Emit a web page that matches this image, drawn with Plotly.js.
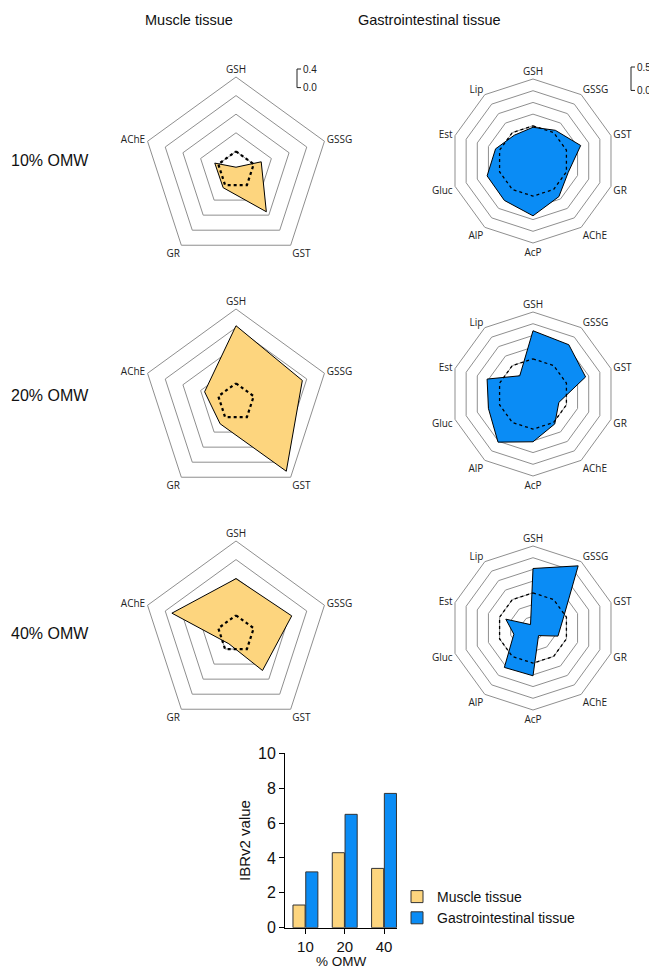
<!DOCTYPE html>
<html>
<head>
<meta charset="utf-8">
<script src="https://cdn.plot.ly/plotly-3.0.1.min.js"></script>
<style>
  html, body { margin: 0; padding: 0; background: #fff; }
  #chart { width: 649px; height: 969px; }
</style>
</head>
<body>
<div id="chart"></div>
<script>
// Biomarker axes of the star plots
const muscleAxes = ['GSH', 'GSSG', 'GST', 'GR', 'AChE'];
const gutAxes = ['GSH', 'GSSG', 'GST', 'GR', 'AChE', 'AcP', 'AlP', 'Gluc', 'Est', 'Lip'];

// Star plot scores (radial units) per OMW concentration
const muscle10 = [0.06, 0.57, 1.11, 0.47, 0.48];
const muscle20 = [1.64, 1.50, 1.84, 0.58, 0.71];
const muscle40 = [1.19, 1.26, 0.97, 0.26, 1.45];
const muscleRef = [0.4, 0.4, 0.4, 0.4, 0.4];

const gut10 = [0.72, 0.81, 1.07, 0.79, 0.94, 1.17, 1.04, 1.03, 0.84, 0.68];
const gut20 = [1.35, 1.30, 1.18, 0.58, 0.79, 1.02, 1.27, 1.00, 1.03, 0.48];
const gut40 = [1.27, 1.64, 0.68, 0.56, 0.20, 1.02, 1.04, 0.43, 0.61, 0.09];
const gutRef = [0.75, 0.75, 0.75, 0.75, 0.75, 0.75, 0.75, 0.75, 0.75, 0.75];

// Grid rings and scale-bar steps
const muscleRings = [0.4, 0.8, 1.2, 1.6, 2.0];
const gutRings = [0.25, 0.5, 0.75, 1.0, 1.25, 1.5, 1.75];
const muscleScaleLabels = ['0.4', '0.0'];
const gutScaleLabels = ['0.5', '0.0'];

// Integrated biomarker response summary
const omwLevels = ['10', '20', '40'];
const ibrMuscle = [1.3, 4.3, 3.4];
const ibrGut = [3.2, 6.5, 7.7];

const rowLabels = ['10% OMW', '20% OMW', '40% OMW'];
const colTitles = ['Muscle tissue', 'Gastrointestinal tissue'];
const barXTitle = '% OMW';

const W = 649, H = 969;
const YELLOW = '#FDD57E';
const BLUE = '#0A8CF5';
const GRID = '#8f8f8f';

const px = x => x / W;
const py = y => 1 - y / H;

function closeLoop(arr) { return arr.concat([arr[0]]); }

// geometry of each star panel (pixel centre + outer radius)
const muscleR = 93, gutR = 82;
const muscleCenters = [[236, 170], [236, 402], [236, 634]];
const gutCenters = [[533, 161], [533, 394], [533, 628]];

const muscleSets = [muscle10, muscle20, muscle40];
const gutSets = [gut10, gut20, gut40];

const data = [];
const layout = {
  width: W, height: H,
  margin: {l: 0, r: 0, t: 0, b: 0},
  paper_bgcolor: '#fff',
  plot_bgcolor: '#fff',
  showlegend: true,
  font: {family: 'Liberation Sans, Arial, sans-serif', color: '#111'},
  annotations: [],
  shapes: []
};

function polarLayout(center, R, rings, axes) {
  return {
    domain: {
      x: [px(center[0] - R), px(center[0] + R)],
      y: [py(center[1] + R), py(center[1] - R)]
    },
    gridshape: 'linear',
    bgcolor: 'rgba(0,0,0,0)',
    radialaxis: {
      range: [0, rings[rings.length - 1]],
      tickvals: rings,
      showticklabels: false,
      showline: false,
      ticks: '',
      gridcolor: GRID,
      gridwidth: 1,
      layer: 'below traces'
    },
    angularaxis: {
      type: 'category',
      categoryarray: axes,
      direction: 'clockwise',
      rotation: 90,
      showgrid: false,
      showline: true,
      linecolor: GRID,
      linewidth: 1,
      ticks: '',
      layer: 'below traces',
      tickfont: {family: 'Open Sans, sans-serif', size: 10, color: '#222'}
    }
  };
}

let idx = 1;
function addStar(axes, values, ref, fill, center, R, rings, dotWidth) {
  const key = idx === 1 ? 'polar' : 'polar' + idx;
  layout[key] = polarLayout(center, R, rings, axes);
  data.push({
    type: 'scatterpolar', subplot: key,
    r: closeLoop(values), theta: closeLoop(axes),
    mode: 'lines', fill: 'toself', fillcolor: fill,
    line: {color: '#000', width: 1},
    showlegend: false, hoverinfo: 'skip'
  });
  data.push({
    type: 'scatterpolar', subplot: key,
    r: closeLoop(ref), theta: closeLoop(axes),
    mode: 'lines',
    line: {color: '#000', width: dotWidth, dash: 'dot'},
    showlegend: false, hoverinfo: 'skip'
  });
  idx++;
}

for (let i = 0; i < 3; i++) {
  addStar(muscleAxes, muscleSets[i], muscleRef, YELLOW, muscleCenters[i], muscleR, muscleRings, 2.2);
  addStar(gutAxes, gutSets[i], gutRef, BLUE, gutCenters[i], gutR, gutRings, 1.3);
}

// scale bars next to the first row of star plots
function scaleBar(x, yTop, stepUnits, R, rings, labels) {
  const len = stepUnits * R / rings[rings.length - 1];
  const yBot = yTop + len;
  const line = {color: '#222', width: 1};
  layout.shapes.push(
    {type: 'line', xref: 'paper', yref: 'paper', x0: px(x), x1: px(x), y0: py(yTop), y1: py(yBot), line},
    {type: 'line', xref: 'paper', yref: 'paper', x0: px(x), x1: px(x + 4), y0: py(yTop), y1: py(yTop), line},
    {type: 'line', xref: 'paper', yref: 'paper', x0: px(x), x1: px(x + 4), y0: py(yBot), y1: py(yBot), line}
  );
  [[labels[0], yTop], [labels[1], yBot]].forEach(([t, y]) => {
    layout.annotations.push({
      text: t, xref: 'paper', yref: 'paper', x: px(x + 4), y: py(y),
      xanchor: 'left', yanchor: 'middle', showarrow: false,
      font: {family: 'Liberation Sans, Arial, sans-serif', size: 10, color: '#222'}
    });
  });
}
scaleBar(297, 69, 0.4, muscleR, muscleRings, muscleScaleLabels);
scaleBar(631, 67, 0.5, gutR, gutRings, gutScaleLabels);

// column titles and row labels
[[colTitles[0], 189], [colTitles[1], 429]].forEach(([t, x]) => {
  layout.annotations.push({
    text: t, xref: 'paper', yref: 'paper', x: px(x), y: py(20),
    xanchor: 'center', yanchor: 'middle', showarrow: false,
    font: {family: 'Liberation Sans, Arial, sans-serif', size: 14.5, color: '#111'}
  });
});
[160, 395, 633].forEach((y, i) => {
  layout.annotations.push({
    text: rowLabels[i], xref: 'paper', yref: 'paper', x: px(9), y: py(y),
    xanchor: 'left', yanchor: 'middle', showarrow: false,
    font: {family: 'Liberation Sans, Arial, sans-serif', size: 16, color: '#111'}
  });
});

// grouped IBRv2 bar chart
data.push({
  type: 'bar', x: omwLevels, y: ibrMuscle, name: 'Muscle tissue',
  marker: {color: YELLOW, line: {color: '#333', width: 1}},
  xaxis: 'x', yaxis: 'y', hoverinfo: 'skip'
});
data.push({
  type: 'bar', x: omwLevels, y: ibrGut, name: 'Gastrointestinal tissue',
  marker: {color: BLUE, line: {color: '#333', width: 1}},
  xaxis: 'x', yaxis: 'y', hoverinfo: 'skip'
});

layout.barmode = 'group';
layout.bargap = 0.35;
layout.bargroupgap = 0.05;
layout.xaxis = {
  domain: [px(285), px(397)],
  anchor: 'y',
  type: 'category',
  range: [-0.52, 2.33],
  showline: true, linecolor: '#000', linewidth: 1,
  ticks: 'outside', ticklen: 5, tickcolor: '#000',
  showgrid: false, zeroline: false,
  tickfont: {size: 15, color: '#111'}
};
// x-axis title set just under the tick labels
layout.annotations.push({
  text: barXTitle, xref: 'paper', yref: 'paper', x: px(341), y: py(961),
  xanchor: 'center', yanchor: 'middle', showarrow: false,
  font: {family: 'Liberation Sans, Arial, sans-serif', size: 13.5, color: '#111'}
});
layout.yaxis = {
  domain: [py(927.7), py(753.3)],
  anchor: 'x',
  range: [0, 10],
  tickvals: [0, 2, 4, 6, 8, 10],
  showline: true, linecolor: '#000', linewidth: 1,
  ticks: 'outside', ticklen: 5, tickcolor: '#000',
  showgrid: false, zeroline: false,
  tickfont: {size: 16, color: '#111'},
  title: {text: 'IBRv2 value', font: {size: 15, color: '#111'}, standoff: 3}
};
layout.legend = {
  x: px(397), y: py(881), xanchor: 'left', yanchor: 'top',
  bgcolor: 'rgba(0,0,0,0)',
  font: {size: 14, color: '#111'},
  tracegroupgap: 0,
  traceorder: 'normal'
};

Plotly.newPlot('chart', data, layout, {displayModeBar: false, staticPlot: true});
</script>
</body>
</html>
